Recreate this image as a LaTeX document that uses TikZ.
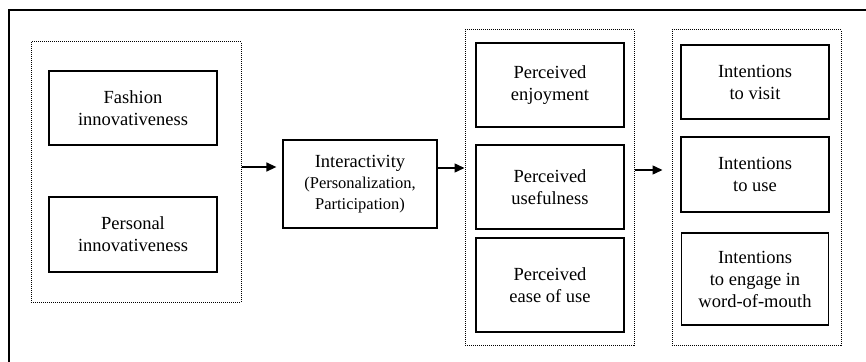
\documentclass[tikz,border=0pt]{standalone}
\usepackage{fontspec}
\setmainfont{Liberation Serif}
\usetikzlibrary{arrows.meta}
\begin{document}
\begin{tikzpicture}[x=1pt,y=-1pt,
  box/.style={draw, line width=1.3pt, align=center, inner sep=0pt,
    font=\fontsize{18.5}{22}\selectfont},
  grp/.style={draw, line width=1pt, dash pattern=on 1pt off 1pt, inner sep=0pt},
  arr/.style={line width=1.4pt, -{Triangle[length=10pt,width=9pt]}}]
\useasboundingbox (0,0) rectangle (866,361);
\begin{scope}
\clip (0,0) rectangle (866,361);
\draw[line width=1.1pt] (9,10) rectangle (900,400);
\end{scope}
% group boxes
\node[grp, minimum width=210pt, minimum height=260pt] (g1) at (136,172) {};
\node[grp, minimum width=169pt, minimum height=315pt] (g2) at (549.5,187.5) {};
\node[grp, minimum width=169pt, minimum height=315pt] (g3) at (756.5,187.5) {};
% boxes
\node[box, minimum width=168pt, minimum height=74pt] (fash) at (133,108) {Fashion\\innovativeness};
\node[box, minimum width=168pt, minimum height=75pt] (pers) at (133,234.5) {Personal\\innovativeness};
\node[box, minimum width=154pt, minimum height=88pt] (inter) at (360,184)
  {Interactivity\\[-1pt]{\fontsize{16.5}{19.5}\selectfont (Personalization,}\\[-1pt]{\fontsize{16.5}{19.5}\selectfont Participation)}};
\node[box, minimum width=148pt, minimum height=84pt] (enj) at (550,85) {Perceived\\enjoyment};
\node[box, minimum width=148pt, minimum height=84pt] (usef) at (550,187) {Perceived\\usefulness};
\node[box, minimum width=148pt, minimum height=94pt] (ease) at (550,285) {Perceived\\ease of use};
\node[box, minimum width=148pt, minimum height=74pt] (visit) at (755,82) {Intentions\\to visit};
\node[box, minimum width=148pt, minimum height=75pt] (use) at (755,174.5) {Intentions\\to use};
\node[box, minimum width=147pt, minimum height=92pt] (wom) at (755,279) {Intentions\\to engage in\\word-of-mouth};
% arrows
\coordinate (s1) at ([yshift=5pt]g1.east);
\draw[arr, shorten >=6pt] (s1) -- (s1 -| inter.west);
\coordinate (s2) at ([yshift=16pt]inter.east);
\draw[arr] (s2) -- (s2 -| g2.west);
\coordinate (s3) at ([yshift=17.5pt]g2.east);
\draw[arr, shorten >=9pt] (s3) -- (s3 -| g3.west);
\end{tikzpicture}
\end{document}
